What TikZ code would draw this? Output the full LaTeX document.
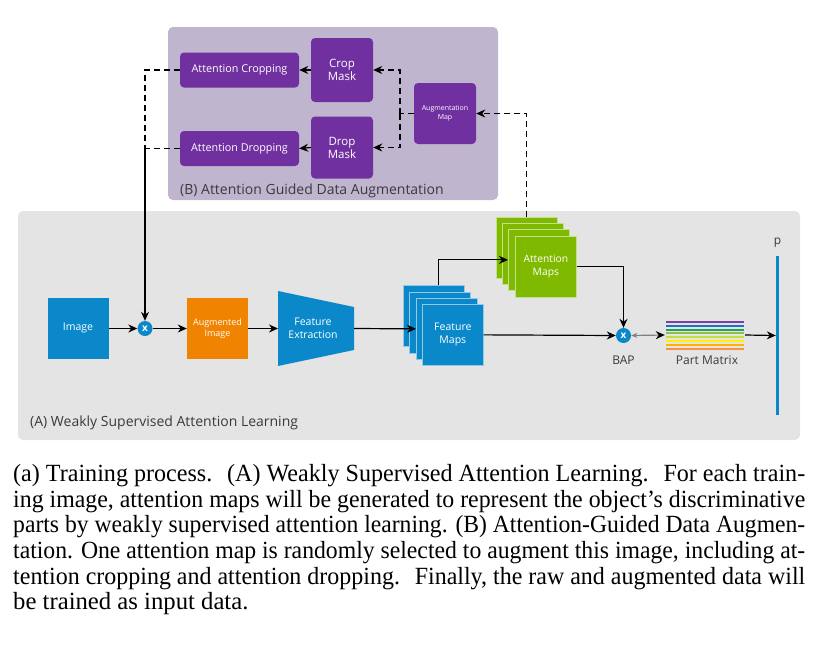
\documentclass[tikz,border=0pt]{standalone}
\usepackage{graphicx}
\usepackage{fontspec}
\setmainfont{Open Sans}
\newfontfamily\capfont{Liberation Serif}
\usetikzlibrary{arrows.meta,calc}
\definecolor{panelB}{HTML}{BFB5CF}
\definecolor{panelA}{HTML}{E4E4E4}
\definecolor{purp}{HTML}{7030A0}
\definecolor{blu}{HTML}{0A88CA}
\definecolor{orng}{HTML}{F08300}
\definecolor{grn}{HTML}{7FBA00}
\definecolor{lbl}{HTML}{3A3A3A}
\newcommand\fitline[1]{\resizebox{792pt}{\height}{#1}}
\tikzset{
  pbox/.style={fill=purp, rounded corners=4pt, text=white, align=center, inner sep=0pt,
     font=\fontsize{10.8}{13}\selectfont},
  sqbox/.style={text=white, align=center, inner sep=0pt, minimum width=61pt, minimum height=61pt},
  layer/.style={fill=#1, draw=white!55!#1, line width=0.7pt, minimum width=61pt, minimum height=61pt, inner sep=0pt, anchor=north west},
  mult/.style={circle, fill=blu, text=white, inner sep=0pt, minimum size=15pt, font=\fontsize{10}{10}\selectfont\bfseries},
  arr/.style={-{Stealth[length=9pt,width=8pt]}, line width=1.2pt},
  darr/.style={-{Stealth[length=9pt,width=8pt]}, line width=1.2pt, dash pattern=on 6pt off 4pt},
  dline/.style={line width=1.2pt, dash pattern=on 6pt off 4pt},
  paneltext/.style={text=lbl, anchor=base west, inner sep=0pt, font=\fontsize{14}{16}\selectfont},
  lbltext/.style={text=lbl, inner sep=0pt, font=\fontsize{12}{14}\selectfont},
  capline/.style={anchor=base west, inner sep=0pt, font=\capfont\fontsize{24.7}{26}\selectfont},
}
\begin{document}
\begin{tikzpicture}[x=1pt,y=-1pt]
\useasboundingbox (0,0) rectangle (818,645);
% panels
\fill[panelB, rounded corners=5pt] (168,27) rectangle (498,200);
\fill[panelA, rounded corners=5pt] (18,211) rectangle (800,440);
\node[paneltext] (labB) at (180,194) {(B) Attention Guided Data Augmentation};
\node[paneltext] (labA) at (30,426) {(A) Weakly Supervised Attention Learning};
% panel B boxes
\node[pbox, minimum width=119pt, minimum height=35pt] (crop) at (239.5,70) {Attention Cropping};
\node[pbox, minimum width=119pt, minimum height=35pt] (drop) at (239.5,148.5) {Attention Dropping};
\node[pbox, minimum width=62pt, minimum height=64pt, font=\fontsize{11.5}{13}\selectfont] (cmask) at (342,70) {Crop\\Mask};
\node[pbox, minimum width=62pt, minimum height=62pt, font=\fontsize{11.5}{13}\selectfont] (dmask) at (342,147.5) {Drop\\Mask};
\node[pbox, minimum width=62pt, minimum height=61pt, font=\fontsize{7}{9}\selectfont] (aug) at (445,113.5) {Augmentation\\Map};
\coordinate (split) at (400,113.5);
\coordinate (j) at (145,148.5);
% panel A
\node[sqbox, fill=blu, font=\fontsize{10.5}{12}\selectfont] (img) at (78,328.5) {Image};
\node[mult] (m1) at (145,328.5) {x};
\node[sqbox, fill=orng, font=\fontsize{9}{11}\selectfont] (augimg) at (217.5,328.5) {Augmented\\Image};
\fill[blu] (278,291) -- (354,307) -- (354,350) -- (278,366) -- cycle;
\node[text=white, align=center, font=\fontsize{10.5}{13}\selectfont] (fe) at (313,328.5) {Feature\\Extraction};
\coordinate (fel) at (278,328.5);
\coordinate (fer) at (354,328.5);
% feature maps
\node[layer=blu] (fm1) at (403,285) {};
\node[layer=blu] (fm2) at (409,292) {};
\node[layer=blu] (fm3) at (416,298) {};
\node[layer=blu, text=white, align=center, font=\fontsize{10.5}{13}\selectfont] (fm4) at (422,304) {Feature\\Maps};
% attention maps
\node[layer=grn] (am1) at (496,217) {};
\node[layer=grn] (am2) at (502,223) {};
\node[layer=grn] (am3) at (508,229) {};
\node[layer=grn, text=white, align=center, font=\fontsize{10.3}{13}\selectfont] (am4) at (515,236) {Attention\\Maps};
% BAP
\node[mult] (bap) at (623.5,335.5) {x};
\node[lbltext] (baplbl) at (623.5,360) {BAP};
% part matrix
\node[minimum width=80pt, minimum height=28pt, inner sep=0pt] (pm) at (705,335) {};
\foreach \yy/\cc in {322/7B3FA8, 325.8/1E6FC0, 329.6/23A35A, 333.4/8BC34A, 337.2/C6DD3A, 341/FFF200, 344.8/FFB300, 348.6/F7923A}{
  \definecolor{tmpc}{HTML}{\cc}
  \draw[tmpc, line width=2pt] (666,\yy) -- (744,\yy);
}
\node[lbltext] (pmlbl) at (707,360) {Part Matrix};
% p bar
\node[fill=blu, minimum width=3pt, minimum height=159pt, inner sep=0pt] (pbar) at (777.5,335.5) {};
\node[lbltext] (plbl) at (777.5,243) {p};
% connectors panel B
\draw[darr] (am1.north) |- (aug.east);
\draw[dline] (aug.west) -- (split);
\draw[darr] (split) |- (cmask.east);
\draw[darr] (split) |- (dmask.east);
\draw[arr] (cmask.west) -- (crop.east);
\draw[arr] (dmask.west) -- (drop.east);
\draw[dline] (crop.west) -| (j);
\draw[dline] (drop.west) -- (j);
\draw[arr] (j) -- (m1.north);
% connectors panel A
\draw[arr] (img.east) -- (m1.west);
\draw[arr] (m1.east) -- (augimg.west);
\draw[arr] (augimg.east) -- (fel);
\draw[arr] (fer) -- (fm3.west);
\draw[arr] ([xshift=5pt]fm1.north) |- (am3.west);
\draw[arr] (am4.east) -| (bap.north);
\draw[arr] (fm4.east) -- (bap.west);
\draw[line width=1.2pt, gray, {Stealth[length=6pt,width=5pt]}-{Stealth[length=9pt,width=8pt,black]}] (bap.east) -- (pm.west);
\draw[arr] (pm.east) -- (pbar.west);
% caption
\node[capline] (c1) at (13,481) {\fitline{(a) Training process.\hspace{7pt} (A) Weakly Supervised Attention Learning.\hspace{7pt} For each train-}};
\node[capline] (c2) at (13,507) {\fitline{ing image, attention maps will be generated to represent the object’s discriminative}};
\node[capline] (c3) at (13,532.5) {\fitline{parts by weakly supervised attention learning. (B) Attention-Guided Data Augmen-}};
\node[capline] (c4) at (13,558) {\fitline{tation. One attention map is randomly selected to augment this image, including at-}};
\node[capline] (c5) at (13,584) {\fitline{tention cropping and attention dropping.\hspace{7pt} Finally, the raw and augmented data will}};
\node[capline] (c6) at (13,609.5) {be trained as input data.};
\end{tikzpicture}
\end{document}
